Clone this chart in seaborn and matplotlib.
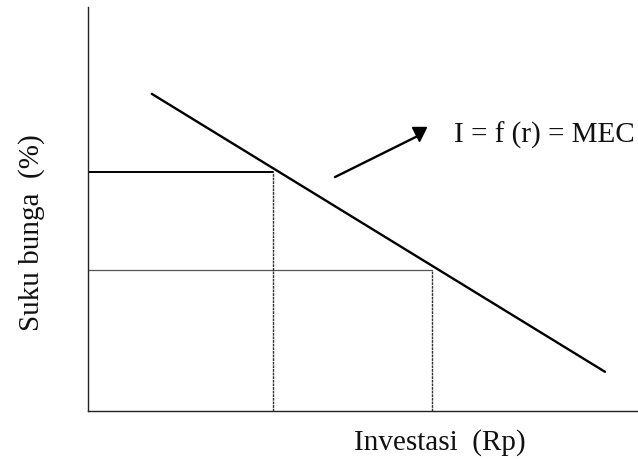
import matplotlib
matplotlib.use("Agg")
import matplotlib.pyplot as plt
import seaborn as sns
import pandas as pd

# --- data (abstract units) ---
mec_investasi = [1.16, 9.4]
mec_bunga = [7.85, 0.97]
rate_levels = [5.92, 3.49]          # r1, r2
invest_levels = [3.36, 6.25]        # I1, I2
arrow_tail = (4.49, 5.79)
arrow_head = (6.0, 6.81)
label_pos = (6.66, 6.86)
curve_label = "I = f (r) = MEC"
x_label = "Investasi  (Rp)"
y_label = "Suku bunga  (%)"

sns.set_theme(style="white")
plt.rcParams['font.family'] = ['Liberation Serif', 'DejaVu Serif']

fig = plt.figure(figsize=(6.38, 4.6), dpi=100)
ax = fig.add_axes([88/638, 48/460, 550/638, 404/460])
ax.set_xlim(0, 10)
ax.set_ylim(0, 10)

df = pd.DataFrame({"Investasi": mec_investasi, "Bunga": mec_bunga})
sns.lineplot(data=df, x="Investasi", y="Bunga", ax=ax, color="black", lw=1.7)

# horizontal guide lines
ax.plot([0, invest_levels[0]], [rate_levels[0]] * 2, color="black", lw=1.4)
ax.plot([0, invest_levels[1]], [rate_levels[1]] * 2, color="#555555", lw=0.9)
# vertical guide lines
ax.plot([invest_levels[0]] * 2, [0, rate_levels[0]], color="#333333", lw=1.0,
        linestyle=(0, (2, 0.6)))
ax.plot([invest_levels[1]] * 2, [0, rate_levels[1]], color="#333333", lw=1.0,
        linestyle=(0, (2, 0.6)))

# arrow and marker
ax.plot([arrow_tail[0], arrow_head[0]], [arrow_tail[1], arrow_head[1]],
        color="black", lw=1.7)
ax.plot([arrow_head[0] + 0.02], [arrow_head[1] + 0.05], marker="v",
        color="black", markersize=10, linestyle="none")
ax.text(label_pos[0], label_pos[1], curve_label, fontsize=21, va="center",
        ha="left", color="#111111")

for s in ["top", "right"]:
    ax.spines[s].set_visible(False)
for s in ["left", "bottom"]:
    ax.spines[s].set_color("#222222")
    ax.spines[s].set_linewidth(1.0)
ax.set_xticks([])
ax.set_yticks([])
ax.set_xlabel(x_label, fontsize=21, color="#111111", va="center", ha="center")
ax.set_ylabel(y_label, fontsize=21, color="#111111", va="center", ha="center")
ax.xaxis.set_label_coords(0.64, -0.075)
ax.yaxis.set_label_coords(-0.103, 0.443)

fig.savefig("out.png", dpi=100)
